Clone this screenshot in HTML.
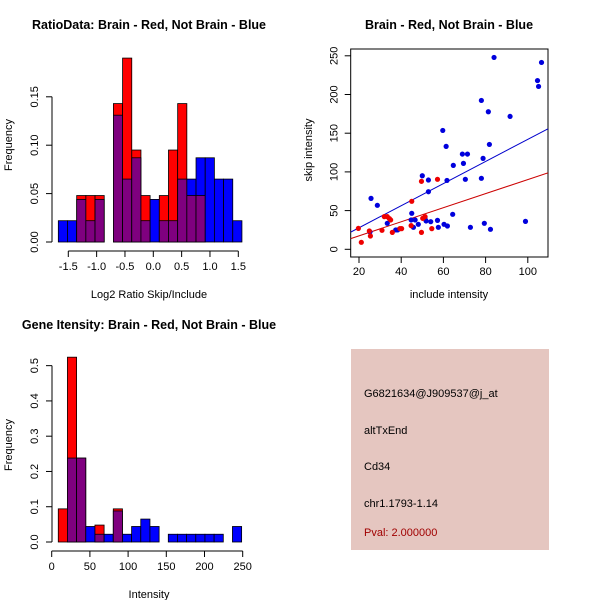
<!DOCTYPE html>
<html><head><meta charset="utf-8"><style>
body{margin:0;background:#fff}
svg{display:block;font-family:"Liberation Sans",sans-serif}
.t{font-size:11px;fill:#000}
.ti{font-size:12.5px;font-weight:bold;fill:#000}
</style></head><body>
<svg id="s" width="600" height="600" viewBox="0 0 600 600">
<rect width="600" height="600" fill="#fff"/>
<g id="p1"></g>
<g id="p2"></g>
<g id="p3"></g>
<g>
<rect x="351" y="349" width="198" height="201" fill="#e5c6c0"/>
<text x="364" y="397" class="t">G6821634@J909537@j_at</text>
<text x="364" y="434" class="t">altTxEnd</text>
<text x="364" y="470" class="t">Cd34</text>
<text x="364" y="507" class="t">chr1.1793-1.14</text>
<text x="364" y="536" class="t" fill="#a00000" style="fill:#a00000">Pval: 2.000000</text>
</g>
</svg>
<script>
// ---- Histogram 1 data ----
const ratioBinStart = -1.676;
const ratioBinWidth = 0.162;
const ratioRed  = [0,0,0.048,0.048,0.048,0,0.143,0.19,0.095,0.048,0,0.048,0.095,0.143,0.048,0.048,0,0,0,0];
const ratioBlue = [0.022,0.022,0.044,0.022,0.044,0,0.131,0.065,0.087,0.022,0.044,0.022,0.022,0.065,0.065,0.087,0.087,0.065,0.065,0.022];
const ratioXTicks = [-1.5,-1.0,-0.5,0.0,0.5,1.0,1.5];
const ratioXLabels = ["-1.5","-1.0","-0.5","0.0","0.5","1.0","1.5"];
const ratioYTicks = [0,0.05,0.10,0.15];
const ratioYLabels = ["0.00","0.05","0.10","0.15"];
// ---- Scatter data ----
const blueX = [25.7,28.7,25.2,33.4,37.4,38.3,45,44.7,45.8,46.6,50,48.1,51.3,51.8,52.9,52.9,54,57.2,57.6,59.7,60.3,61.9,61.3,61.7,64.4,64.7,69,69.5,71.4,70.4,72.8,78,78,78.8,79.4,81.3,81.8,82.3,84,91.6,98.9,104.6,105.1,106.5];
const blueY = [65.8,56.8,22.4,33.6,25,25,46.5,37.9,28.4,37.9,95,32.3,40.4,36.6,74.4,89.5,35.7,37.4,28.4,153.6,32.3,30.1,133,89,45.2,108.4,123,111,123,90.4,28.4,192.3,91.7,117.5,33.6,177.7,135.5,25.8,247.9,171.7,36.1,218,210.4,241.4];
const redX = [19.7,21.1,25.4,24.9,30.9,32,33.4,34.4,35,35.8,39.4,40.2,45,44.7,49.6,49.6,50.2,54.5,57.2,51.3];
const redY = [27,9,17.2,23.7,24.5,42.2,42.2,39.6,37.9,21.9,26.7,26.7,62,30.6,87.8,21.9,40,26.7,90.4,42.2];
const blueFit = [-0.76,1.428];
const redFit = [-0.8,0.909];
const scXTicks = [20,40,60,80,100];
const scYTicks = [0,50,100,150,200,250];
// ---- Histogram 3 data ----
const intBinStart = 8.6;
const intBinWidth = 12;
const intRed  = [0.094,0.524,0.238,0,0.048,0,0.094,0,0,0,0,0,0,0,0,0,0,0,0,0];
const intBlue = [0,0.238,0.238,0.044,0.022,0.022,0.088,0.022,0.044,0.065,0.044,0,0.022,0.022,0.022,0.022,0.022,0.022,0,0.044];
const intXTicks = [0,50,100,150,200,250];
const intYTicks = [0,0.1,0.2,0.3,0.4,0.5];
const intYLabels = ["0.0","0.1","0.2","0.3","0.4","0.5"];

const NS="http://www.w3.org/2000/svg";
function mk(parent,tag,attrs,text){const e=document.createElementNS(NS,tag);for(const k in attrs)e.setAttribute(k,attrs[k]);if(text!==undefined)e.textContent=text;parent.appendChild(e);return e;}

function histogram(g,o){
  const sx=v=>o.x0+(v-o.v0)*o.kx, sy=v=>o.y0-v*o.ky;
  for(let i=0;i<o.red.length;i++){
    const a=o.start+i*o.w,b=a+o.w,r=o.red[i],bl=o.blue[i];
    const hi=Math.max(r,bl),lo=Math.min(r,bl);
    if(hi>0){
      const e=mk(g,'rect',{x:sx(a),y:sy(hi),width:sx(b)-sx(a),height:sy(0)-sy(hi),fill:r>=bl?'#ff0000':'#0000ff',stroke:'#000','stroke-width':0.8});
      
      
    }
    if(lo>0){
      const e=mk(g,'rect',{x:sx(a),y:sy(lo),width:sx(b)-sx(a),height:sy(0)-sy(lo),fill:'#7f007f',stroke:'#000','stroke-width':0.8});
      
      
    }
  }
  const ya=mk(g,'g',{});
  
  
  mk(ya,'line',{x1:o.ax,x2:o.ax,y1:sy(o.yt[0]),y2:sy(o.yt[o.yt.length-1]),stroke:'#000'});
  o.yt.forEach((v,i)=>{mk(ya,'line',{x1:o.ax-6,x2:o.ax,y1:sy(v),y2:sy(v),stroke:'#000'});
    const t=mk(ya,'text',{x:o.ax-14,y:sy(v),'text-anchor':'middle',class:'t',transform:`rotate(-90 ${o.ax-14} ${sy(v)})`},o.yl[i]);
    
    });
  const xa=mk(g,'g',{});
  
  
  mk(xa,'line',{x1:sx(o.xt[0]),x2:sx(o.xt[o.xt.length-1]),y1:o.ay,y2:o.ay,stroke:'#000'});
  o.xt.forEach((v,i)=>{mk(xa,'line',{x1:sx(v),x2:sx(v),y1:o.ay,y2:o.ay+6,stroke:'#000'});
    const t=mk(xa,'text',{x:sx(v),y:o.ay+19,'text-anchor':'middle',class:'t'},o.xl[i]);
    
    });
}

const g1=document.getElementById('p1');
histogram(g1,{red:ratioRed,blue:ratioBlue,start:ratioBinStart,w:ratioBinWidth,x0:153.3,v0:0,kx:56.67,y0:242,ky:968,ax:52,ay:251,xt:ratioXTicks,xl:ratioXLabels,yt:ratioYTicks,yl:ratioYLabels});
let t;
t=mk(g1,'text',{x:149,y:29,'text-anchor':'middle',class:'ti'},'RatioData: Brain - Red, Not Brain - Blue');
 
t=mk(g1,'text',{x:149,y:298,'text-anchor':'middle',class:'t'},'Log2 Ratio Skip/Include');
 
t=mk(g1,'text',{x:12,y:145,'text-anchor':'middle',class:'t',transform:'rotate(-90 12 145)'},'Frequency');
 

const g3=document.getElementById('p3');
histogram(g3,{red:intRed,blue:intBlue,start:intBinStart,w:intBinWidth,x0:51.7,v0:0,kx:0.764,y0:542,ky:352.7,ax:52,ay:551,xt:intXTicks,xl:intXTicks.map(String),yt:intYTicks,yl:intYLabels});
t=mk(g3,'text',{x:149,y:329,'text-anchor':'middle',class:'ti'},'Gene Itensity: Brain - Red, Not Brain - Blue');
 
t=mk(g3,'text',{x:149,y:598,'text-anchor':'middle',class:'t'},'Intensity');
 
t=mk(g3,'text',{x:12,y:445,'text-anchor':'middle',class:'t',transform:'rotate(-90 12 445)'},'Frequency');
 

const g2=document.getElementById('p2');
const L=350.7,R=548,T=49,B=257;
const sx=v=>359+(v-20)*2.11, sy=v=>249.3-v*0.774;
const clip=mk(g2,'clipPath',{id:'c2'});mk(clip,'rect',{x:L,y:T,width:R-L,height:B-T});
const box=mk(g2,'rect',{x:L,y:T,width:R-L,height:B-T,fill:'none',stroke:'#000'});
 
const vL=20+(L-359)/2.11, vR=20+(R-359)/2.11;
[[blueFit,'#0000cc','fit-line-blue'],[redFit,'#cc0000','fit-line-red']].forEach(([f,c,n])=>{
  const l=mk(g2,'line',{x1:L,x2:R,y1:sy(f[0]+f[1]*vL),y2:sy(f[0]+f[1]*vR),stroke:c,'stroke-width':1,'clip-path':'url(#c2)'});
   
});
blueX.forEach((x,i)=>{const c=mk(g2,'circle',{cx:sx(x),cy:sy(blueY[i]),r:2.6,fill:'#0000dd'});
   });
redX.forEach((x,i)=>{const c=mk(g2,'circle',{cx:sx(x),cy:sy(redY[i]),r:2.6,fill:'#ee0000'});
   });
scXTicks.forEach(v=>{mk(g2,'line',{x1:sx(v),x2:sx(v),y1:B,y2:B+6,stroke:'#000'});
  const tt=mk(g2,'text',{x:sx(v),y:B+18,'text-anchor':'middle',class:'t'},String(v));
   });
scYTicks.forEach(v=>{mk(g2,'line',{x1:L-6,x2:L,y1:sy(v),y2:sy(v),stroke:'#000'});
  const tt=mk(g2,'text',{x:L-13,y:sy(v),'text-anchor':'middle',class:'t',transform:`rotate(-90 ${L-13} ${sy(v)})`},String(v));
   });
t=mk(g2,'text',{x:449,y:29,'text-anchor':'middle',class:'ti'},'Brain - Red, Not Brain - Blue');
 
t=mk(g2,'text',{x:449,y:298,'text-anchor':'middle',class:'t'},'include intensity');
 
t=mk(g2,'text',{x:312,y:150,'text-anchor':'middle',class:'t',transform:'rotate(-90 312 150)'},'skip intensity');
 
</script>
</body></html>
